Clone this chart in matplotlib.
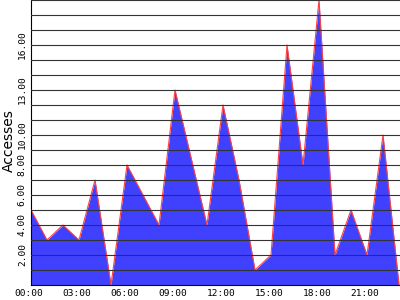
import matplotlib
matplotlib.use("Agg")
import matplotlib.pyplot as plt
import matplotlib.transforms as mtransforms

# hourly accesses
hours = list(range(24))
accesses = [5, 3, 4, 3, 7, 0, 8, 6, 4, 13, 8.5, 4, 12, 7, 1, 2, 16, 8, 19, 2, 5, 2, 10, 0]

xtick_pos = [0, 3, 6, 9, 12, 15, 18, 21]
xtick_labels = ["00:00", "03:00", "06:00", "09:00", "12:00", "15:00", "18:00", "21:00"]
grid_levels = list(range(1, 20))
ytick_labeled = [2, 4, 6, 8, 10, 13, 16]

fig = plt.figure(figsize=(4, 3), dpi=100)
ax = fig.add_axes([31 / 400, 15 / 300, 369 / 400, 285 / 300])

ax.fill_between(hours, accesses, 0, color="#4040ff", linewidth=0, zorder=1)
ax.plot(hours, accesses, color="#ff4040", linewidth=0.8, zorder=2)

ax.set_xlim(0, 369 / 16)
ax.set_ylim(0, 19)

ax.set_yticks(grid_levels)
ax.set_yticklabels(["%.2f" % v if v in ytick_labeled else "" for v in grid_levels],
                   rotation=90, va="center", family="DejaVu Sans Mono", fontsize=6.8)
ax.set_xticks(xtick_pos)
ax.set_xticklabels(xtick_labels, family="DejaVu Sans Mono", fontsize=6.8)
ax.tick_params(length=0, pad=3)

# x labels sit a couple of pixels left of their hour
shift = mtransforms.ScaledTranslation(-2 / 100, 0, fig.dpi_scale_trans)
for lbl in ax.get_xticklabels():
    lbl.set_transform(lbl.get_transform() + shift)

ax.grid(axis="y", color="#333333", linewidth=0.8)
ax.set_axisbelow(False)

for s in ["top", "right"]:
    ax.spines[s].set_visible(False)
for s in ["left", "bottom"]:
    ax.spines[s].set_color("black")
    ax.spines[s].set_linewidth(0.8)

fig.text(9 / 400, 1 - 141 / 300, "Accesses", rotation=90, ha="center", va="center",
         fontsize=10)

fig.savefig("out.png", dpi=100)
